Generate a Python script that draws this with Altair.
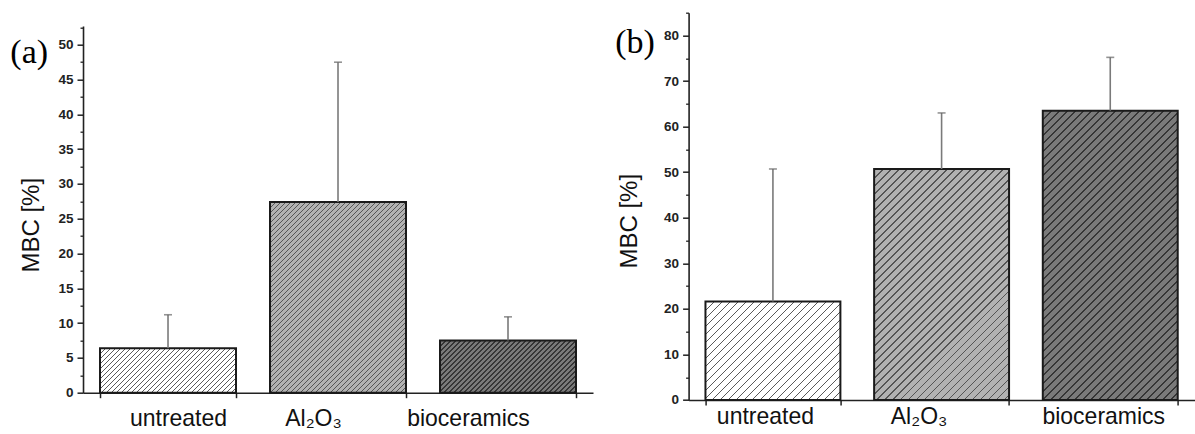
import altair as alt
import pandas as pd

# ---------------- data ----------------
categories = ["untreated", "Al₂O₃", "bioceramics"]
mbc_a = [6.4, 27.4, 7.5]
upper_a = [11.2, 47.5, 10.9]
mbc_b = [21.6, 50.7, 63.5]
upper_b = [50.7, 63.0, 75.2]
major_a = [0, 5, 10, 15, 20, 25, 30, 35, 40, 45, 50]
minor_a = [2.5, 7.5, 12.5, 17.5, 22.5, 27.5, 32.5, 37.5, 42.5, 47.5, 52.5]
major_b = [0, 10, 20, 30, 40, 50, 60, 70, 80]
minor_b = [5, 15, 25, 35, 45, 55, 65, 75, 85]
bg_colors = ["#ffffff", "#b2b2b2", "#7a7a7a"]
hatch_colors = ["#5a5a5a", "#555555", "#363636"]

SANS = "Liberation Sans"
SERIF = "Liberation Serif"


def hatch(w, h, period, lw, bg, fg):
    """45-degree '/' hatching as a hard-stop linear gradient (t ~ x + y)."""
    total = w + h
    a = total / (w * w + h * h)
    stops = []
    s = 0.0
    while s < total:
        e = min(s + lw, total)
        stops += [(s, fg), (e, fg), (e, bg), (min(s + period, total), bg)]
        s += period
    return alt.LinearGradient(
        gradient="linear", x1=0, y1=0, x2=a * w, y2=a * h,
        stops=[alt.GradientStop(offset=o / total, color=c) for o, c in stops],
    )


def panel(tag, means, uppers, dom_top, width, view_h, rng, major, minor,
          period, lw, offsets, label_pad, title_x, title_y, tag_x, tag_y):
    df = pd.DataFrame({"cat": categories, "mbc": means, "upper": uppers})
    step = width / 3.0
    bar_w = step * 0.8
    ppu = (rng[0] - rng[1]) / dom_top

    cond = {
        "condition": [
            {"test": f"datum.value === '{categories[0]}'", "value": offsets[0]},
            {"test": f"datum.value === '{categories[1]}'", "value": offsets[1]},
        ],
        "value": offsets[2],
    }
    x_axis = alt.Axis(title=None, labelAngle=0, tickBand="extent", tickSize=5,
                      labelFontSize=23, labelColor="#111111", labelFont=SANS,
                      labelPadding=label_pad, labelOffset=cond,
                      domainColor="#222222", domainWidth=1.6,
                      tickColor="#222222", tickWidth=1.5, grid=False)
    xenc = alt.X("cat:N", sort=categories,
                 scale=alt.Scale(paddingInner=0.2, paddingOuter=0.1),
                 axis=x_axis)
    yscale = alt.Scale(domain=[0, dom_top], range=rng, nice=False, zero=True)

    major_axis = alt.Axis(values=major, tickSize=6, tickWidth=1.5,
                          tickColor="#222222", domainColor="#222222",
                          domainWidth=1.6, labelFont=SANS, labelFontSize=13.5,
                          labelFontWeight="bold", labelColor="#222222",
                          labelPadding=4, grid=False, orient="left",
                          title="MBC [%]", titleFont=SANS, titleFontSize=24,
                          titleFontWeight="normal", titleColor="#111111",
                          titleX=title_x, titleY=title_y)
    minor_axis = alt.Axis(values=minor, tickSize=3, tickWidth=1.3,
                          tickColor="#222222", labels=False, domain=False,
                          grid=False, orient="left", title=None)

    layers = []
    for i, c in enumerate(categories):
        grad = hatch(bar_w, means[i] * ppu, period, lw, bg_colors[i], hatch_colors[i])
        layers.append(
            alt.Chart(df).transform_filter(alt.datum.cat == c)
            .mark_bar(fill=grad, stroke="#1a1a1a", strokeWidth=2)
            .encode(x=xenc,
                    y=alt.Y("mbc:Q", scale=yscale,
                            axis=major_axis if i == 0 else None))
        )
    stems = alt.Chart(df).mark_rule(color="#7a7a7a", strokeWidth=1.6).encode(
        x=xenc, y=alt.Y("mbc:Q", scale=yscale, axis=minor_axis), y2="upper:Q")
    caps = alt.Chart(df).mark_tick(color="#666666", thickness=1.6, size=8).encode(
        x=xenc, y=alt.Y("upper:Q", scale=yscale, axis=None))
    tagc = alt.Chart(pd.DataFrame({"tag": [tag]})).mark_text(
        font=SERIF, fontSize=34, align="left", baseline="alphabetic",
        color="#000000").encode(x=alt.value(tag_x), y=alt.value(tag_y),
                                text="tag:N")
    return (alt.layer(*layers, stems, caps, tagc)
            .properties(width=width, height=view_h)
            .resolve_axis(y="independent"))


pa = panel("(a)", mbc_a, upper_a, 52.7, 510, 380, [380, 13.3], major_a, minor_a,
           5.0, 1.7, [10, -25, -40], 10, -40, 212, -72.7, 50.3)
pb = panel("(b)", mbc_b, upper_b, 85, 506, 387.3, [387.3, 0], major_b, minor_b,
           8.0, 1.9, [-8, -23, -7], 1, -47, 208, -73.3, 40.3)

chart = (alt.hconcat(pa, pb, spacing=95.6, bounds="flush")
         .properties(padding={"left": 10, "top": 11.7, "right": 0, "bottom": 0},
                     background="white")
         .configure_view(stroke=None))

chart.save("out.html", embed_options={"renderer": "svg", "actions": False})
